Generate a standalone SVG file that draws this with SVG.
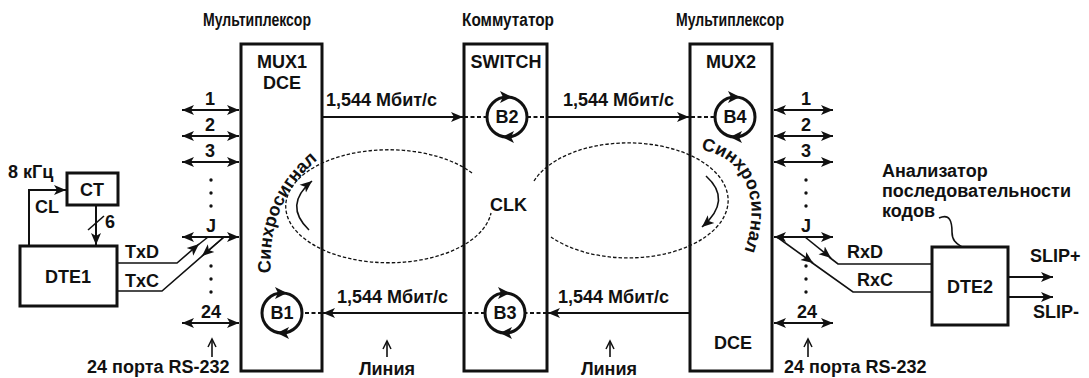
<svg xmlns="http://www.w3.org/2000/svg" width="1089" height="378" viewBox="0 0 1089 378">
<style>
text{font-family:"Liberation Sans",Arial,sans-serif;font-weight:bold;fill:#111;}
.t{font-size:18px;}
.tc{font-size:18px;text-anchor:middle;}
.hd{font-size:18px;}
.box{fill:none;stroke:#111;stroke-width:3;}
.ln{fill:none;stroke:#111;stroke-width:2;}
.thin{fill:none;stroke:#111;stroke-width:1.6;}
.ds{fill:none;stroke:#111;stroke-width:1.8;stroke-dasharray:4 2.5;}
.el{fill:none;stroke:#111;stroke-width:1.3;stroke-dasharray:3.5 2;}
.ring{fill:#fff;stroke:#111;stroke-width:3;}
.dot{fill:#111;}
</style>
<defs>
<marker id="ah" markerUnits="userSpaceOnUse" markerWidth="14" markerHeight="12" refX="12" refY="5" orient="auto-start-reverse" viewBox="0 0 14 10">
<path d="M0,0 L12,5 L0,10 L3,5 z" fill="#111"/>
</marker>
<marker id="up" markerUnits="userSpaceOnUse" markerWidth="12" markerHeight="12" refX="9" refY="5" orient="auto" viewBox="0 0 12 10">
<path d="M1,1 L9,5 L1,9" fill="none" stroke="#111" stroke-width="1.5"/>
</marker>
<g id="rot">
<path d="M5,-20 L-7,-26 L-4,-20 L-7,-14 z" fill="#111"/>
<path d="M-5,20 L7,26 L4,20 L7,14 z" fill="#111"/>
</g>
<path id="synL" d="M271,273 Q266,195 330,150"/>
<path id="synR" d="M701,150 C742,156 764,196 744,252"/>
</defs>

<g id="headers">
<text class="hd" x="203" y="26" textLength="108" lengthAdjust="spacingAndGlyphs">Мультиплексор</text>
<text class="hd" x="462" y="26" textLength="92" lengthAdjust="spacingAndGlyphs">Коммутатор</text>
<text class="hd" x="676" y="26" textLength="108" lengthAdjust="spacingAndGlyphs">Мультиплексор</text>
</g>

<g id="connectors">
<path class="el" d="M472,173 A103,56.5 0 1 0 491,213"/>
<path class="el" d="M534,181 A100,57.5 0 1 1 551,237"/>
<path class="thin" d="M309,230 Q283,205 312,181" marker-end="url(#ah)"/>
<path class="thin" d="M706,176 Q733,200 702,227" marker-end="url(#ah)"/>
<line class="ln" x1="322" y1="117" x2="463" y2="117" marker-end="url(#ah)"/>
<line class="ds" x1="464" y1="117" x2="487" y2="117"/>
<line class="ds" x1="527" y1="117" x2="547" y2="117"/>
<line class="ln" x1="548" y1="117" x2="689" y2="117" marker-end="url(#ah)"/>
<line class="ds" x1="691" y1="117" x2="715" y2="117"/>
<line class="ln" x1="690" y1="313" x2="548" y2="313" marker-end="url(#ah)"/>
<line class="ds" x1="547" y1="313" x2="525" y2="313"/>
<line class="ds" x1="485" y1="313" x2="464" y2="313"/>
<line class="ln" x1="463" y1="313" x2="323" y2="313" marker-end="url(#ah)"/>
<line class="ds" x1="322" y1="313" x2="302" y2="313"/>
<line class="ln" x1="182" y1="110" x2="239" y2="110" marker-start="url(#ah)" marker-end="url(#ah)"/>
<line class="ln" x1="182" y1="136" x2="239" y2="136" marker-start="url(#ah)" marker-end="url(#ah)"/>
<line class="ln" x1="182" y1="162" x2="239" y2="162" marker-start="url(#ah)" marker-end="url(#ah)"/>
<line class="ln" x1="182" y1="237" x2="239" y2="237" marker-start="url(#ah)" marker-end="url(#ah)"/>
<line class="ln" x1="182" y1="323" x2="239" y2="323" marker-start="url(#ah)" marker-end="url(#ah)"/>
<line class="ln" x1="774" y1="110" x2="833" y2="110" marker-start="url(#ah)" marker-end="url(#ah)"/>
<line class="ln" x1="774" y1="136" x2="833" y2="136" marker-start="url(#ah)" marker-end="url(#ah)"/>
<line class="ln" x1="774" y1="162" x2="833" y2="162" marker-start="url(#ah)" marker-end="url(#ah)"/>
<line class="ln" x1="774" y1="237" x2="833" y2="237" marker-start="url(#ah)" marker-end="url(#ah)"/>
<line class="ln" x1="774" y1="323" x2="833" y2="323" marker-start="url(#ah)" marker-end="url(#ah)"/>
<polyline class="thin" points="117,263 177,263 199,244" marker-end="url(#ah)"/>
<line class="thin" x1="198" y1="245" x2="208" y2="237"/>
<polyline class="thin" points="117,291 162,291 224,237"/>
<line class="thin" x1="224" y1="237" x2="202" y2="256" marker-end="url(#ah)"/>
<line class="thin" x1="805" y1="237" x2="831" y2="258" marker-end="url(#ah)"/>
<polyline class="thin" points="829,257 838,264 932,264"/>
<line class="thin" x1="777" y1="237" x2="813" y2="263" marker-end="url(#ah)"/>
<polyline class="thin" points="811,262 853,292 932,292"/>
<polyline class="ln" points="29,246 29,190 66,190" marker-end="url(#ah)"/>
<line class="ln" x1="96" y1="205" x2="96" y2="245" marker-end="url(#ah)"/>
<line class="thin" x1="88" y1="230" x2="104" y2="216"/>
<line class="ln" x1="1008" y1="277" x2="1053" y2="277" marker-end="url(#ah)"/>
<line class="ln" x1="1008" y1="297" x2="1053" y2="297" marker-end="url(#ah)"/>
<path class="thin" d="M939,218 C950,213 952,222 952,232 C952,242 958,244 962,247"/>
<line class="thin" x1="212" y1="357" x2="212" y2="339" marker-end="url(#up)"/>
<line class="thin" x1="808" y1="357" x2="808" y2="339" marker-end="url(#up)"/>
<line class="thin" x1="387" y1="357" x2="387" y2="341" marker-end="url(#up)"/>
<line class="thin" x1="610" y1="357" x2="610" y2="341" marker-end="url(#up)"/>
</g>

<g id="mux1">
<rect class="box" x="241" y="44" width="81" height="327"/>
<text class="tc" x="282" y="68">MUX1</text>
<text class="tc" x="282" y="89">DCE</text>
</g>
<g id="switch">
<rect class="box" x="464" y="44" width="83" height="327"/>
<text class="tc" x="506" y="68">SWITCH</text>
</g>
<g id="mux2">
<rect class="box" x="690" y="44" width="82" height="327"/>
<text class="tc" x="731" y="68">MUX2</text>
<text class="tc" x="733" y="349">DCE</text>
</g>

<g id="b1"><circle class="ring" cx="282" cy="313" r="20"/><use href="#rot" transform="translate(282,313)"/><text class="tc" x="282" y="319">B1</text></g>
<g id="b2"><circle class="ring" cx="507" cy="117" r="20"/><use href="#rot" transform="translate(507,117)"/><text class="tc" x="507" y="123">B2</text></g>
<g id="b3"><circle class="ring" cx="505" cy="313" r="20"/><use href="#rot" transform="translate(505,313)"/><text class="tc" x="505" y="319">B3</text></g>
<g id="b4"><circle class="ring" cx="735" cy="117" r="20"/><use href="#rot" transform="translate(735,117)"/><text class="tc" x="735" y="123">B4</text></g>

<g id="dte1">
<rect class="box" x="20" y="246" width="97" height="60"/>
<text class="tc" x="68" y="283">DTE1</text>
</g>
<g id="ct">
<rect class="box" x="67" y="173" width="51" height="32"/>
<text class="tc" x="92" y="196">CT</text>
</g>
<g id="dte2">
<rect class="box" x="932" y="247" width="76" height="78"/>
<text class="tc" x="970" y="293">DTE2</text>
</g>

<g id="labels">
<text class="t" x="326" y="106">1,544 Мбит/с</text>
<text class="t" x="563" y="106">1,544 Мбит/с</text>
<text class="t" x="337" y="303">1,544 Мбит/с</text>
<text class="t" x="558" y="303">1,544 Мбит/с</text>
<text class="t" x="490" y="211">CLK</text>
<text class="t"><textPath href="#synL">Синхросигнал</textPath></text>
<text class="t" font-size="17"><textPath href="#synR">Синхросигнал</textPath></text>
<text class="t" x="8" y="178" font-size="17">8 кГц</text>
<text class="t" x="35" y="213">CL</text>
<text class="t" x="105" y="228">6</text>
<text class="t" x="125" y="258">TxD</text>
<text class="t" x="125" y="287">TxC</text>
<text class="t" x="847" y="258">RxD</text>
<text class="t" x="857" y="286">RxC</text>
<text class="t" x="1030" y="262">SLIP+</text>
<text class="t" x="1033" y="318">SLIP-</text>
<text class="t" x="882" y="177">Анализатор</text>
<text class="t" x="882" y="197">последовательности</text>
<text class="t" x="882" y="217">кодов</text>
<text class="tc" x="387" y="375" font-size="17">Линия</text>
<text class="tc" x="609" y="375" font-size="17">Линия</text>
</g>

<g id="left-ports">
<text class="tc" x="210" y="105">1</text>
<text class="tc" x="210" y="131">2</text>
<text class="tc" x="210" y="157">3</text>
<text class="tc" x="211" y="232">J</text>
<text class="tc" x="211" y="318">24</text>
<circle class="dot" cx="211" cy="180" r="1.7"/><circle class="dot" cx="211" cy="193" r="1.7"/><circle class="dot" cx="211" cy="206" r="1.7"/>
<circle class="dot" cx="211" cy="266" r="1.7"/><circle class="dot" cx="211" cy="279" r="1.7"/><circle class="dot" cx="211" cy="292" r="1.7"/>
<text class="t" x="87" y="373">24 порта RS-232</text>
</g>
<g id="right-ports">
<text class="tc" x="806" y="105">1</text>
<text class="tc" x="806" y="131">2</text>
<text class="tc" x="806" y="157">3</text>
<text class="tc" x="806" y="232">J</text>
<text class="tc" x="807" y="318">24</text>
<circle class="dot" cx="806" cy="180" r="1.7"/><circle class="dot" cx="806" cy="193" r="1.7"/><circle class="dot" cx="806" cy="206" r="1.7"/>
<circle class="dot" cx="806" cy="266" r="1.7"/><circle class="dot" cx="806" cy="279" r="1.7"/><circle class="dot" cx="806" cy="292" r="1.7"/>
<text class="t" x="784" y="373">24 порта RS-232</text>
</g>
</svg>
